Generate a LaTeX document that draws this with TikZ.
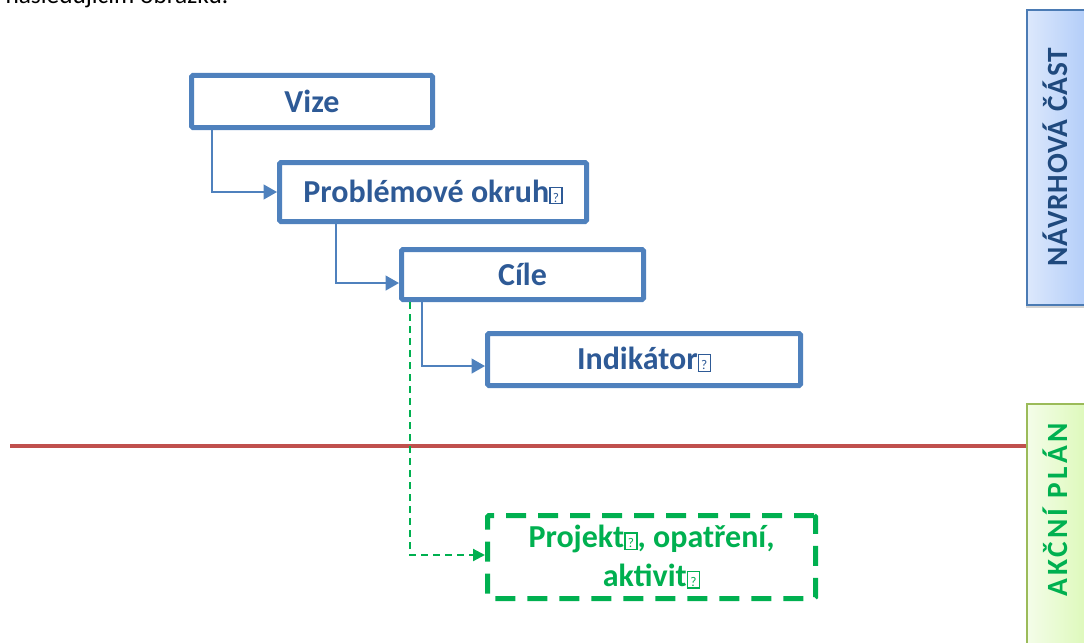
\documentclass[tikz,border=0pt]{standalone}
\usepackage{fontspec}
\setmainfont{Carlito}
\usetikzlibrary{arrows.meta, positioning, shadows}
\definecolor{boxblue}{HTML}{4F81BD}
\definecolor{textblue}{HTML}{2E5A96}
\definecolor{actgreen}{HTML}{00B050}
\definecolor{cutred}{HTML}{C0504D}
\definecolor{partblue}{HTML}{1F497D}
\definecolor{bluelight}{HTML}{DCE8FC}
\definecolor{bluedeep}{HTML}{A9C7F8}
\definecolor{greenlight}{HTML}{F4FDE9}
\definecolor{greendeep}{HTML}{D8F8B0}
\definecolor{greenedge}{HTML}{9BBB59}
\newcommand{\nog}{{\setlength{\fboxsep}{0.4pt}\setlength{\fboxrule}{1pt}\fbox{\rule[-0.4pt]{0pt}{10.6pt}\makebox[7.2pt]{\fontsize{10}{10}\selectfont\mdseries ?}}}}

\begin{document}
\begin{tikzpicture}[x=0.75pt, y=-0.75pt,
  box/.style={draw=boxblue, line width=3.75pt, rounded corners=1pt, text=textblue, font=\fontsize{24}{29}\selectfont\bfseries, inner sep=0pt},
  planbox/.style={draw=actgreen, line width=3.75pt, dash pattern=on 15pt off 9pt, rounded corners=1pt, text=actgreen, font=\fontsize{24}{29}\selectfont\bfseries, align=center, inner sep=0pt},
  link/.style={draw=boxblue, line width=1.5pt, -{Triangle[length=10pt,width=11pt]}},
  planlink/.style={draw=actgreen, line width=1.6pt, dash pattern=on 5pt off 4pt, -{Triangle[length=9pt,width=9pt]}},
  partlabel/.style={rotate=90, font=\fontsize{22}{26}\selectfont\bfseries}]
\useasboundingbox (0,0) rectangle (1084,642);
\node[anchor=base east, font=\fontsize{19}{23}\selectfont] (intro) at (233,4) {následujícím obrázku.};
\node[box, minimum width=180.75pt, minimum height=39pt] (vize) at (312,101.5) {Vize};
\node[box, minimum width=230.25pt, minimum height=44.25pt] (okruhy) at (433,192) {Problémové okruh\nog};
\node[box, minimum width=181.5pt, minimum height=37.5pt] (cile) at (522.5,274.5) {Cíle};
\node[box, minimum width=234.75pt, minimum height=39pt] (indikatory) at (644,359.5) {Indikátor\nog};
\node[planbox, minimum width=246pt, minimum height=62.25pt] (projekty) at (651.5,557) {Projekt\nog, opatření,\\aktivit\nog};
\draw[link] ([xshift=17.5pt]vize.south west) |- (okruhy.west);
\draw[link] ([xshift=43.9pt]okruhy.south west) |- ([yshift=-6.4pt]cile.west);
\draw[link] ([xshift=17.4pt]cile.south west) |- ([yshift=-4.9pt]indikatory.west);
\draw[cutred, line width=3pt] (10,446) -- (1027,446);
\draw[planlink] ([xshift=8.5pt]cile.south west) |- ([yshift=1.5pt]projekty.west);
\draw[draw=boxblue!95!black, line width=1.5pt, left color=bluelight, right color=bluedeep, drop shadow={shadow xshift=-1pt, shadow yshift=-2.5pt, opacity=0.35}] (1027,10) rectangle (1100,305);
\draw[draw=greenedge, line width=1.5pt, left color=greenlight, right color=greendeep, drop shadow={shadow xshift=-1pt, shadow yshift=-2.5pt, opacity=0.35}] (1027,404) rectangle (1100,660);
\node[partlabel, text=partblue, font=\fontsize{22}{26}\selectfont\bfseries\addfontfeatures{LetterSpace=3}] (navrh) at (1055,157) {NÁVRHOVÁ ČÁST};
\node[partlabel, text=actgreen, font=\fontsize{22}{26}\selectfont\bfseries\addfontfeatures{LetterSpace=11}] (akce) at (1055,510) {AKČNÍ PLÁN};
\end{tikzpicture}
\end{document}
